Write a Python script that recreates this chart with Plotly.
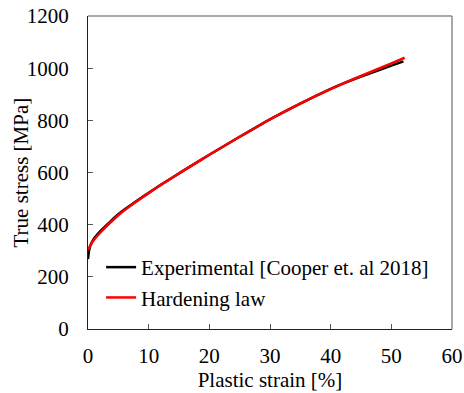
import plotly.graph_objects as go

# Experimental true stress-strain curve (Cooper et al. 2018)
strain_exp = [0, 0.15, 0.4, 1, 2, 3, 4, 5, 6, 8, 10, 12, 14, 16, 20, 25, 30, 35, 40, 42, 45, 48, 50, 52]
stress_exp = [268, 298, 320, 347, 374, 397, 419, 440, 458, 491, 522, 553, 582, 611, 668, 737, 804, 864, 921, 941, 968, 993, 1010, 1026]

# Fitted hardening law
strain_law = [0, 0.5, 1, 2, 3, 4, 5, 6, 8, 10, 12, 14, 16, 20, 25, 30, 35, 40, 45, 50, 52.2]
stress_law = [302, 325, 342, 369, 393, 415, 436, 455, 489, 521, 552, 582, 611, 668, 737, 804, 865, 920, 970, 1018, 1040]

x_ticks = [0, 10, 20, 30, 40, 50, 60]
y_ticks = [0, 200, 400, 600, 800, 1000, 1200]

FONT = "Liberation Serif, Times New Roman, serif"

fig = go.Figure()
fig.add_trace(go.Scatter(
    x=strain_exp, y=stress_exp, mode="lines",
    name="Experimental [Cooper et. al 2018]",
    line=dict(color="#000000", width=2.5, shape="spline", smoothing=0.4),
))
fig.add_trace(go.Scatter(
    x=strain_law, y=stress_law, mode="lines",
    name="Hardening law",
    line=dict(color="#ff0000", width=2.5, shape="spline", smoothing=0.4),
))

axis_common = dict(
    showgrid=False, zeroline=False, automargin=False,
    showline=True, linecolor="#222222", linewidth=1,
    ticks="inside", ticklen=5, tickcolor="#555555", tickwidth=1,
    tickfont=dict(family=FONT, size=21, color="#000000"),
)

fig.update_layout(
    width=464, height=393,
    margin=dict(l=88, r=12, t=16, b=64),
    paper_bgcolor="white", plot_bgcolor="white",
    font=dict(family=FONT, size=20, color="#000000"),
    xaxis=dict(
        range=[0, 60], tickvals=x_ticks,
        title=dict(text="Plastic strain [%]", font=dict(family=FONT, size=21), standoff=5),
        ticklabelstandoff=8,
        **axis_common,
    ),
    yaxis=dict(
        range=[0, 1200], tickvals=y_ticks,
        ticklabelstandoff=14,
        **axis_common,
    ),
    legend=dict(
        x=0.036, y=0.262, xanchor="left", yanchor="top",
        bgcolor="rgba(0,0,0,0)", borderwidth=0,
        font=dict(family=FONT, size=21, color="#000000"),
    ),
    showlegend=True,
)

# vertical axis title
fig.add_annotation(
    text="True stress [MPa]", textangle=-90,
    xref="paper", yref="paper", x=0, y=0.5,
    xanchor="center", yanchor="middle", xshift=-68,
    showarrow=False, font=dict(family=FONT, size=21, color="#000000"),
)

# light frame on the top and right sides of the plotting area
fig.add_shape(type="line", xref="paper", yref="paper", x0=0, x1=1, y0=1, y1=1,
              line=dict(color="#8c8c8c", width=1.5))
fig.add_shape(type="line", xref="paper", yref="paper", x0=1, x1=1, y0=0, y1=1,
              line=dict(color="#8c8c8c", width=1.5))

fig.write_html("out.html")
